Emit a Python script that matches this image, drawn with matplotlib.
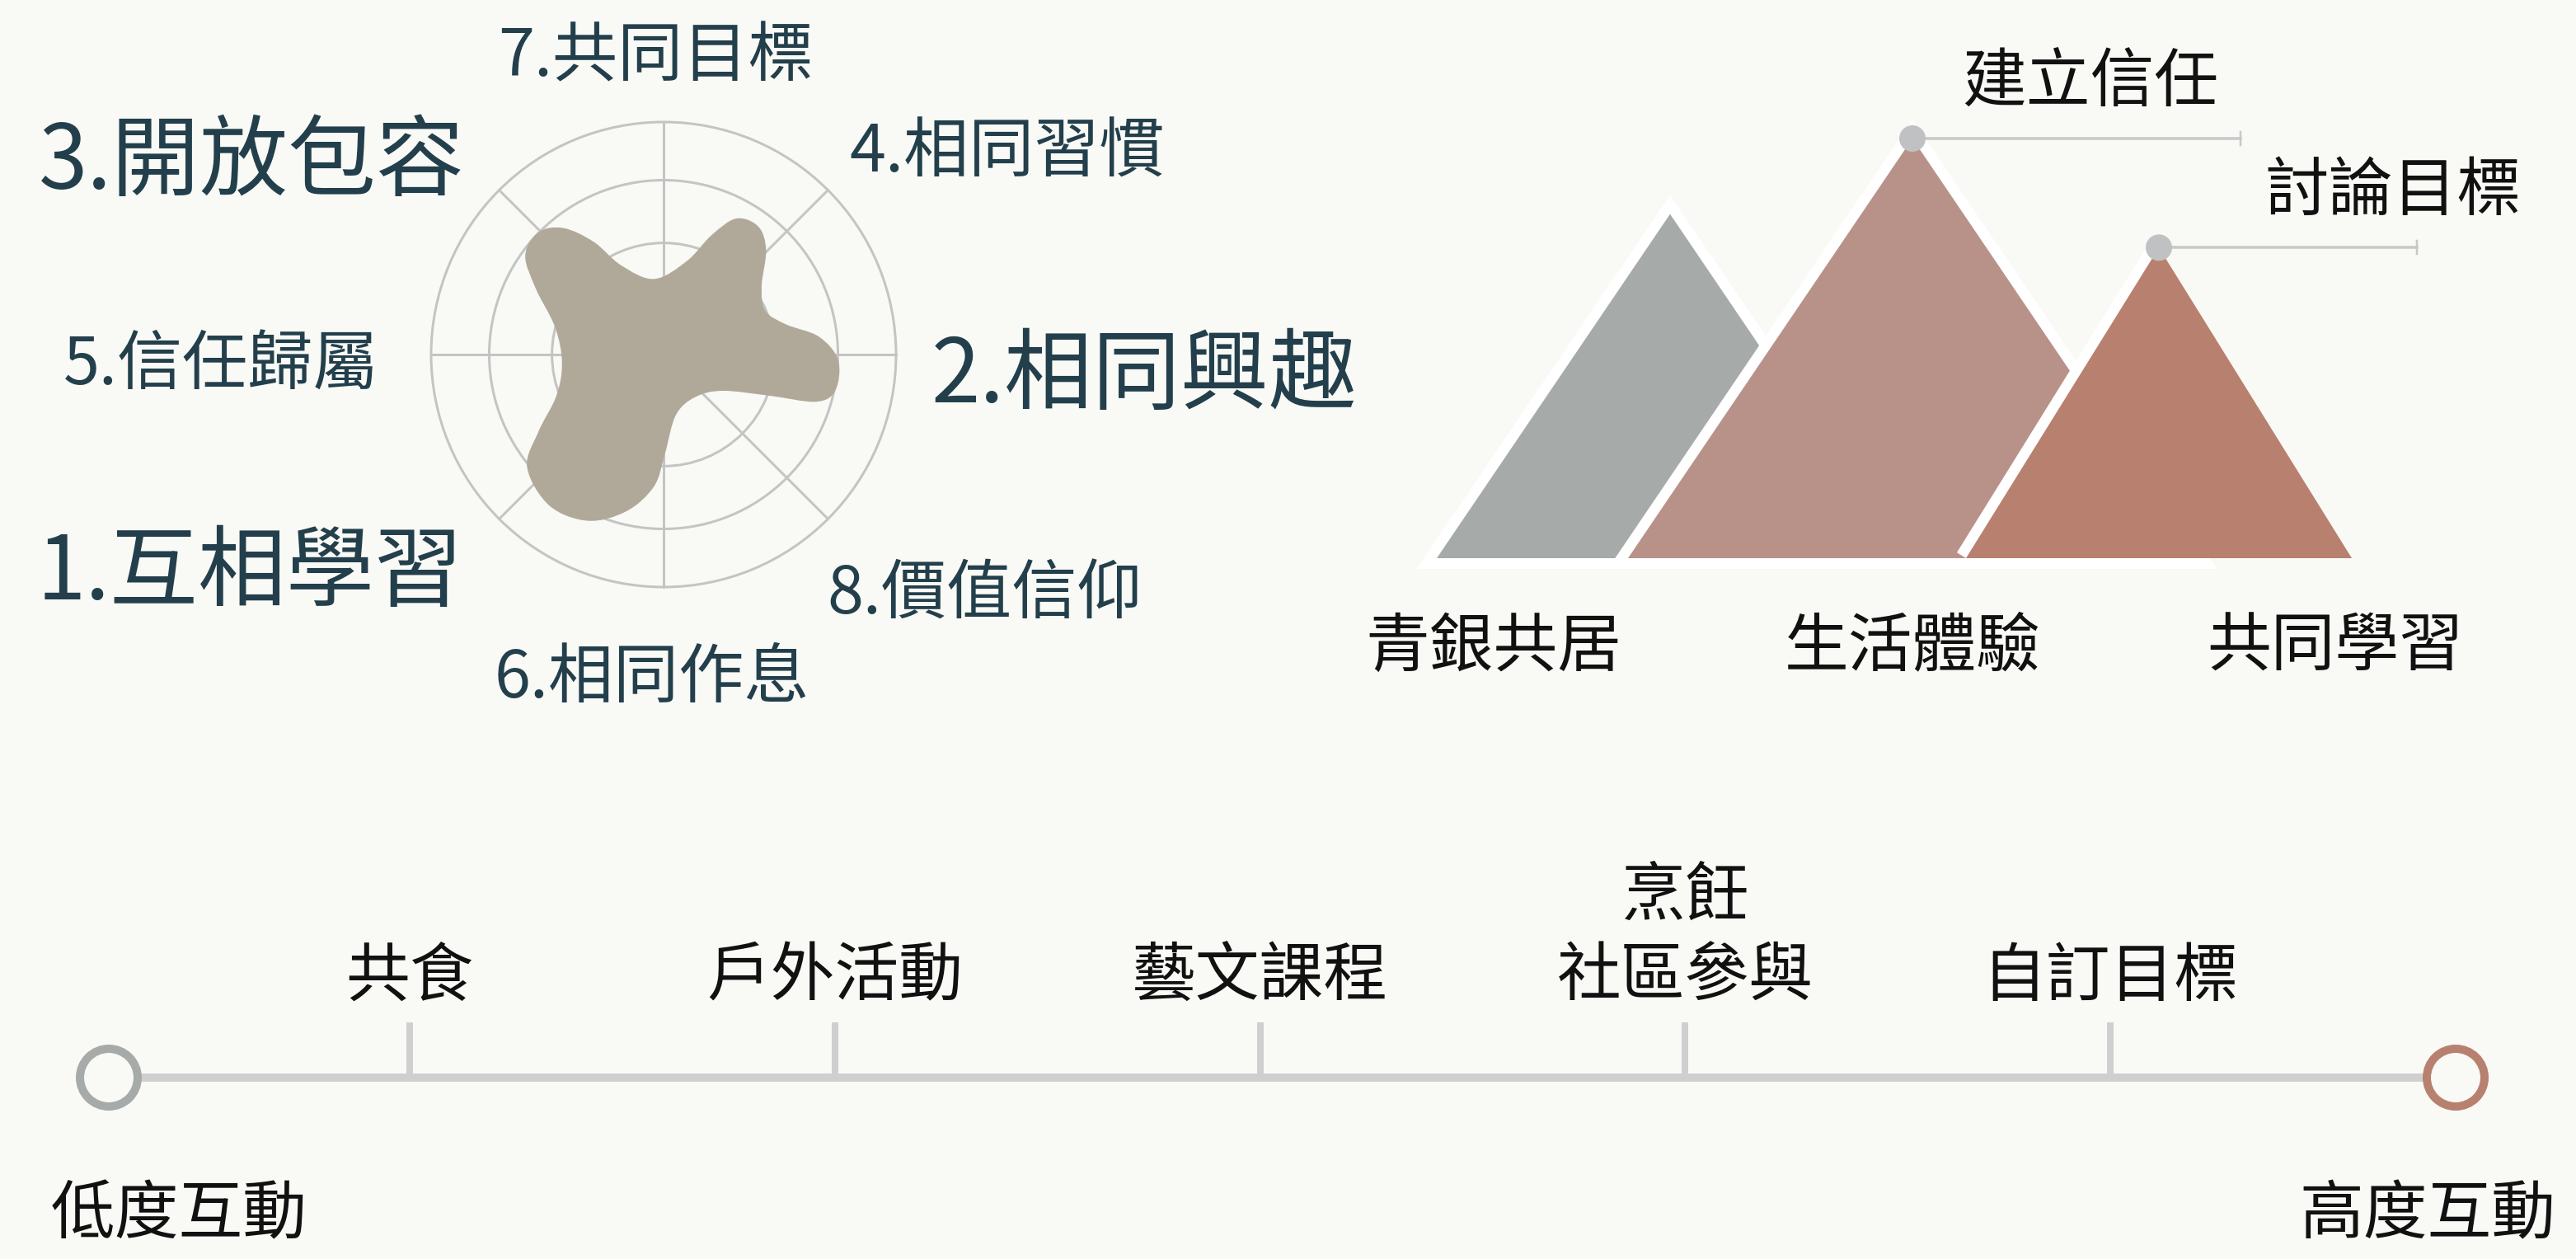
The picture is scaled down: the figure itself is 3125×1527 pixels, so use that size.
import numpy as np
import matplotlib
matplotlib.use("Agg")
import matplotlib.pyplot as plt
from matplotlib.patches import Circle, Polygon, PathPatch
from matplotlib.path import Path

plt.rcParams["font.family"] = ["Noto Sans CJK TC", "DejaVu Sans"]

# radar labels, clockwise from the top axis
radar_labels = ["7.共同目標", "4.相同習慣", "2.相同興趣", "8.價值信仰",
                "6.相同作息", "1.互相學習", "5.信任歸屬", "3.開放包容"]
radar_big = ["1.互相學習", "2.相同興趣", "3.開放包容"]
radar_rings = [0.48, 0.75, 1.0]

# blob outline, in units of the outer ring radius (y up)
blob_x = [-0.041, 0.100, 0.207, 0.313, 0.408, 0.441, 0.422, 0.437, 0.526,
          0.668, 0.751, 0.739, 0.656, 0.455, 0.254, 0.136, 0.053, 0.006,
          -0.041, -0.160, -0.325, -0.491, -0.587, -0.538, -0.461, -0.437,
          -0.467, -0.550, -0.595, -0.538, -0.431, -0.301, -0.183]
blob_y = [0.325, 0.402, 0.514, 0.585, 0.550, 0.449, 0.296, 0.189, 0.130,
          0.077, -0.024, -0.154, -0.203, -0.177, -0.156, -0.183, -0.260,
          -0.426, -0.567, -0.674, -0.715, -0.650, -0.485, -0.331, -0.177,
          -0.035, 0.118, 0.284, 0.426, 0.526, 0.544, 0.485, 0.384]

# mountains (height relative to the tallest)
mountain_labels = ["青銀共居", "生活體驗", "共同學習"]
mountain_heights = [0.82, 1.0, 0.74]
peak_notes = ["", "建立信任", "討論目標"]

# interaction timeline
timeline_labels = ["共食", "戶外活動", "藝文課程", "社區參與", "自訂目標"]
timeline_extra = ["", "", "", "烹飪", ""]
timeline_ends = ["低度互動", "高度互動"]

BG = "#f9f9f5"
W, H = 3125, 1527
PX = 72 / 100  # points per pixel at dpi 100
TXT_DY = 5     # nudge so the glyphs sit where the reference has them

fig = plt.figure(figsize=(W / 100, H / 100), dpi=100, facecolor=BG)
ax = fig.add_axes([0, 0, 1, 1])
ax.set_xlim(0, W)
ax.set_ylim(H, 0)
ax.axis("off")


def label(x, y, s, size=56, color="#111111", ha="center"):
    ax.text(x, y + TXT_DY, s, ha=ha, va="center", fontsize=size, color=color)


# ---- radar ----
cx, cy, R = 805, 430, 282
grid_col = "#c4c4c4"
theta = np.deg2rad(90 - 45 * np.arange(len(radar_labels)))
for r in radar_rings:
    ax.add_patch(Circle((cx, cy), R * r, fill=False, ec=grid_col, lw=3 * PX, zorder=1))
for t in theta:
    ax.plot([cx, cx + R * np.cos(t)], [cy, cy - R * np.sin(t)],
            color=grid_col, lw=3 * PX, zorder=1)

# closed Catmull-Rom curve through the outline points, as cubic Beziers
pts = np.column_stack([cx + R * np.array(blob_x), cy - R * np.array(blob_y)])
n = len(pts)
verts, codes = [pts[0]], [Path.MOVETO]
for i in range(n):
    p0, p1, p2, p3 = pts[i - 1], pts[i], pts[(i + 1) % n], pts[(i + 2) % n]
    verts += [p1 + (p2 - p0) / 6, p2 - (p3 - p1) / 6, p2]
    codes += [Path.CURVE4] * 3
ax.add_patch(PathPatch(Path(verts, codes), fc="#b0a99a", ec="none", zorder=2))

label_xy = [(795, 65), (1222, 181), (1388, 452), (1195, 717),
            (791, 818), (303, 691), (268, 439), (305, 193)]
for lab, (x, y) in zip(radar_labels, label_xy):
    size = 77 if lab in radar_big else 57
    label(x, y, lab, size=size, color="#233f4c")

# ---- mountains ----
base_y = 677
peak_x = [2026, 2320, 2619]
half_w = [283, 345, 234]
max_h = 509
mtn_cols = ["#a6aaa8", "#b89289", "#b8806e"]
white_lw = 26 * PX
for i, (x, h, hw, col) in enumerate(zip(peak_x, mountain_heights, half_w, mtn_cols)):
    top = base_y - h * max_h
    tri = [(x - hw, base_y), (x, top), (x + hw, base_y)]
    if i < 2:
        ax.add_patch(Polygon(tri, closed=True, fc="white", ec="white",
                             lw=white_lw, joinstyle="miter", zorder=3 + 2 * i))
    else:
        ax.plot([x - hw, x], [base_y, top], color="white", lw=white_lw,
                solid_capstyle="butt", zorder=3 + 2 * i)
    ax.add_patch(Polygon(tri, closed=True, fc=col, ec="none", zorder=4 + 2 * i))

label_x = [1812, 2320, 2833]
for lab, x in zip(mountain_labels, label_x):
    label(x, 781, lab)

note_end = [None, 2718, 2932]
note_cx = [None, 2536, 2903]
for i, note in enumerate(peak_notes):
    if not note:
        continue
    x = peak_x[i]
    top = base_y - mountain_heights[i] * max_h
    ax.plot([x, note_end[i]], [top, top], color="#c8c8ca", lw=3.5 * PX, zorder=10)
    ax.plot([note_end[i]] * 2, [top - 8, top + 8], color="#c8c8ca", lw=2.5 * PX, zorder=10)
    ax.add_patch(Circle((x, top), 16, fc="#c0c1c3", ec="none", zorder=11))
    label(note_cx[i], top - 72, note)

# ---- timeline ----
ty = 1307
x_lo, x_hi, ring_r = 132, 2979, 40
ax.plot([x_lo + ring_r, x_hi - ring_r], [ty, ty], color="#cfcfcf",
        lw=10 * PX, solid_capstyle="butt", zorder=1)
tick_x = np.linspace(497, 2560, len(timeline_labels))
for x, lab, extra in zip(tick_x, timeline_labels, timeline_extra):
    ax.plot([x, x], [1240, ty], color="#cfcfcf", lw=8 * PX,
            solid_capstyle="butt", zorder=1)
    label(x, 1181, lab)
    if extra:
        label(x, 1083, extra)
for x, col in [(x_lo, "#a6aaa8"), (x_hi, "#b8806e")]:
    ax.add_patch(Circle((x, ty), ring_r - 5, fc=BG, ec=col, lw=10 * PX, zorder=2))
label(62, 1470, timeline_ends[0], ha="left")
label(3100, 1470, timeline_ends[1], ha="right")

fig.savefig("out.png", dpi=100, facecolor=BG)
